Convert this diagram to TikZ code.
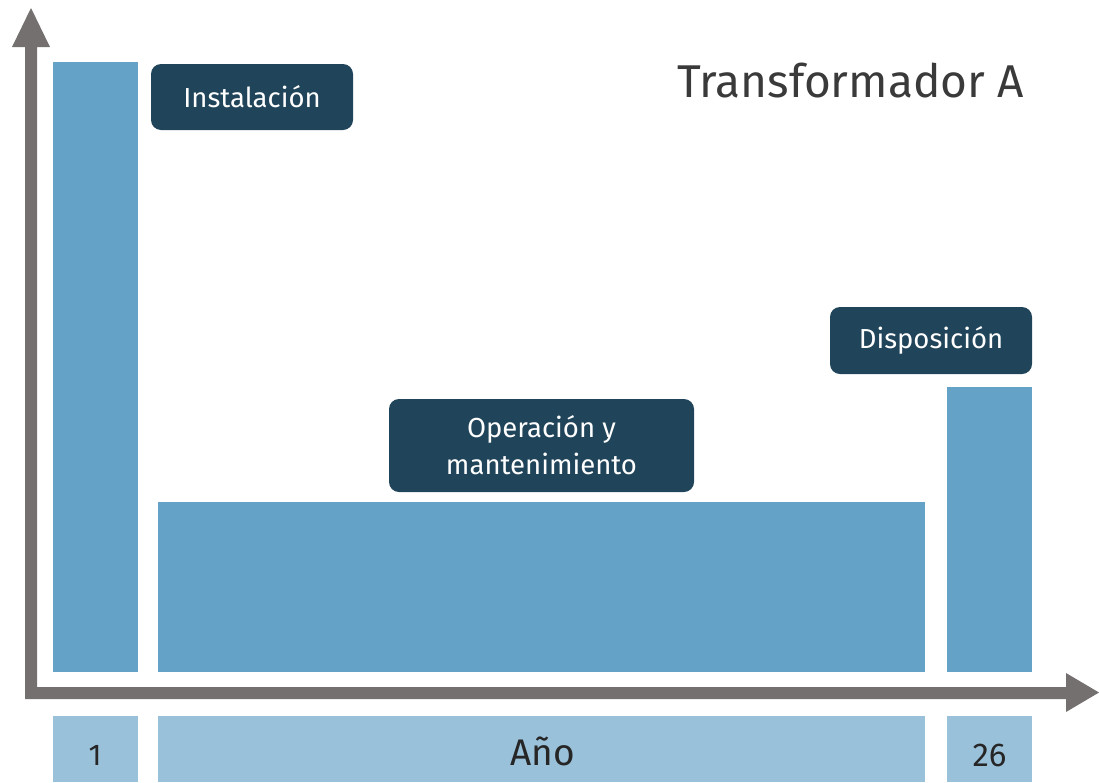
\documentclass[tikz,border=0pt]{standalone}
\usepackage{fontspec}
\setmainfont{Fira Sans}
\definecolor{barblue}{HTML}{64A2C8}
\definecolor{paleblue}{HTML}{9AC1DA}
\definecolor{tagblue}{HTML}{204459}
\definecolor{axisgrey}{HTML}{74706F}
\definecolor{titlegrey}{HTML}{3A3A3A}
\begin{document}
\begin{tikzpicture}[x=1pt,y=-1pt,
  bar/.style={fill=barblue},
  yearcell/.style={fill=paleblue},
  tag/.style={fill=tagblue, rounded corners=10pt, text=white, align=center,
    inner sep=0pt, font=\fontsize{27.5}{37}\selectfont},
  yearlabel/.style={text=black!85, inner sep=0pt}]
\useasboundingbox (0,0) rectangle (1099,782);

% cost bars
\fill[bar] (53,62) rectangle (138,672);
\fill[bar] (158,502) rectangle (925,672);
\fill[bar] (947,387) rectangle (1032,672);

% year cells below the time axis
\fill[yearcell] (53,716) rectangle (138,782);
\fill[yearcell] (158,716) rectangle (925,782);
\fill[yearcell] (947,716) rectangle (1032,782);

% axes with their arrow heads
\fill[axisgrey] (25,699) -- (25,47) -- (12,47) -- (31,8) -- (50,47) -- (37,47)
  -- (37,687) -- (1066,687) -- (1066,673) -- (1099,692.5) -- (1066,712)
  -- (1066,699) -- cycle;

% phase tags
\node[tag, minimum width=202pt, minimum height=66pt] (inst) at (252,97) {Instalación};
\node[tag, minimum width=305pt, minimum height=93pt] (oper) at (541.5,445.5)
  {Operación y\\mantenimiento};
\node[tag, minimum width=202pt, minimum height=67pt] (disp) at (931,340.5) {Disposición};

% title
\node[anchor=base east, inner sep=0pt, text=titlegrey,
  font=\fontsize{46}{52}\selectfont] (title) at (1024,97) {Transformador A};

% year labels
\node[yearlabel, anchor=base, font=\fontsize{30}{34}\selectfont] (y1) at (95,765) {1};
\node[yearlabel, anchor=base, font=\fontsize{37}{42}\selectfont] (year) at (543,765) {Año};
\node[yearlabel, anchor=base, font=\fontsize{33}{38}\selectfont] (y26) at (989.5,766) {26};
\end{tikzpicture}
\end{document}
